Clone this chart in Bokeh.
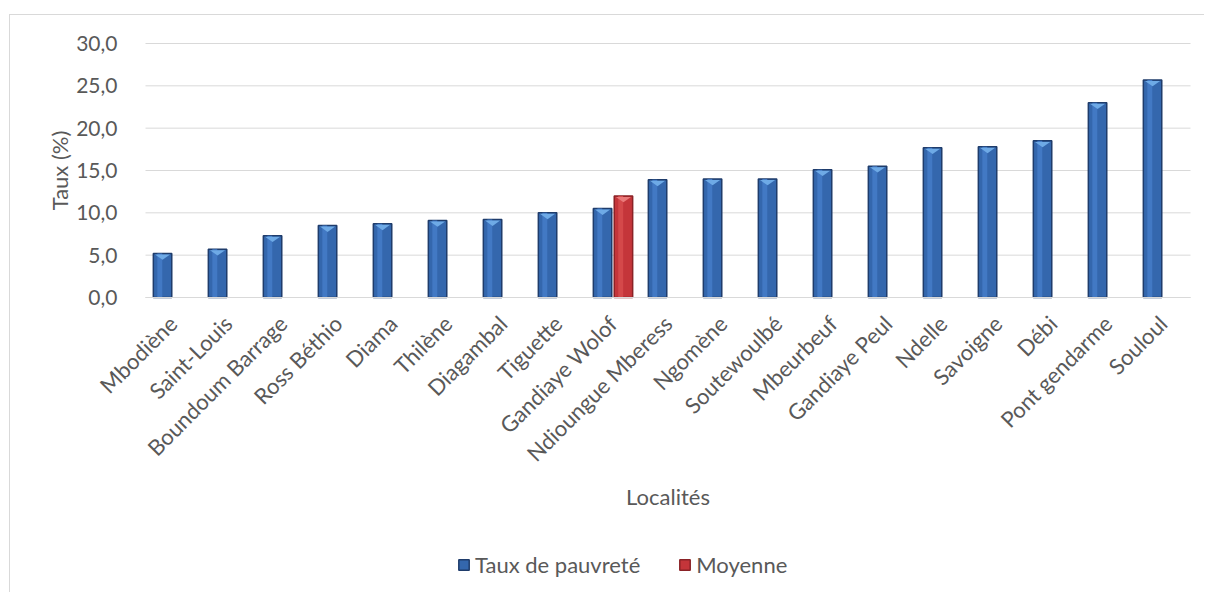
from math import pi
from bokeh.plotting import figure
from bokeh.models import (ColumnDataSource, FixedTicker, CustomJSTickFormatter,
                          Legend, LegendItem, Range1d, LinearAxis, Label)
from bokeh.transform import dodge
from bokeh.embed import file_html
from bokeh.resources import INLINE

# ---------------- data ----------------
localites = ["Mbodiène", "Saint-Louis", "Boundoum Barrage", "Ross Béthio", "Diama",
             "Thilène", "Diagambal", "Tiguette", "Gandiaye Wolof", "Ndioungue Mberess",
             "Ngomène", "Soutewoulbé", "Mbeurbeuf", "Gandiaye Peul", "Ndelle",
             "Savoigne", "Débi", "Pont gendarme", "Souloul"]
taux_pauvrete = [5.2, 5.7, 7.3, 8.5, 8.7, 9.1, 9.2, 10.0, 10.5, 13.9,
                 14.0, 14.0, 15.1, 15.5, 17.7, 17.8, 18.5, 23.0, 25.7]
moyenne_localites = ["Gandiaye Wolof"]
moyenne_valeurs = [12.0]
y_ticks = [0, 5, 10, 15, 20, 25, 30]

# ---------------- style / layout ----------------
FONT = "Lato"
FS = "22px"
FS_Y = "21px"
TXT = "#595959"
GRID = "#d9d9d9"
BAR_W = 0.335
OFF = 0.19
TRI_H = 0.75
TRI_E = 0.03

W, H = 1195, 578                 # canvas size
PLOT_L, PLOT_R = 135, 1180       # plot area (px inside canvas)
PLOT_T, PLOT_B = 28, 282
n = len(localites)
x_lo, x_hi = -0.5, n - 0.5
y_lo, y_hi = y_ticks[0], y_ticks[-1]
ppx = (PLOT_R - PLOT_L) / (x_hi - x_lo)
ppy = (PLOT_B - PLOT_T) / (y_hi - y_lo)

blue = dict(body="#3467ad", edge="#1f3c6b", hi="#4279c4", tri="#6eaae6")
red = dict(body="#c4353a", edge="#8a2226", hi="#d4484a", tri="#ea7a7a")

p = figure(width=W, height=H, output_backend="svg", toolbar_location=None,
           x_axis_location=None, y_axis_location=None,
           x_range=Range1d(x_lo - PLOT_L / ppx, x_hi + (W - PLOT_R) / ppx),
           y_range=Range1d(y_lo - (H - PLOT_B) / ppy, y_hi + PLOT_T / ppy),
           min_border=0, min_border_left=0, min_border_right=0,
           min_border_top=0, min_border_bottom=0)
p.styles = {"border-left": "1px solid #d9d9d9", "border-top": "1px solid #d9d9d9",
            "margin-top": "14px", "margin-left": "9px"}
p.outline_line_color = None
p.background_fill_color = "white"
p.border_fill_color = "white"
p.grid.visible = False

# horizontal gridlines limited to the plot area
p.segment(x0=[x_lo] * len(y_ticks), x1=[x_hi] * len(y_ticks), y0=y_ticks, y1=y_ticks,
          line_color=GRID, line_width=1)


def add_series(cats, vals, offset, col):
    idx = [localites.index(c) for c in cats]
    src = ColumnDataSource(dict(idx=idx, val=vals))
    main = p.vbar(x=dodge("idx", offset, range=None), top="val", bottom=0, width=BAR_W,
                  source=src, fill_color=col["body"], line_color=col["edge"], line_width=1.5)
    p.vbar(x=dodge("idx", offset - 0.05, range=None), top="val", bottom=0, width=0.09,
           source=src, fill_color=col["hi"], line_color=None)
    xs, ys = [], []
    for i, v in zip(idx, vals):
        cx = i + offset
        xs.append([cx - BAR_W / 2 + TRI_E, cx + BAR_W / 2 - TRI_E, cx])
        ys.append([v - 0.12, v - 0.12, v - TRI_H])
    p.patches(xs, ys, fill_color=col["tri"], line_color=None)
    return main


r_taux = add_series(localites, taux_pauvrete, -OFF, blue)
r_moy = add_series(moyenne_localites, moyenne_valeurs, OFF, red)

# axes (fixed inside the canvas)
yax = LinearAxis(fixed_location=x_lo, ticker=FixedTicker(ticks=y_ticks),
                 formatter=CustomJSTickFormatter(code="return tick.toFixed(1).replace('.', ',');"),
                 axis_line_color=None, major_tick_line_color=None, minor_tick_line_color=None,
                 major_label_standoff=22)
xax = LinearAxis(fixed_location=0, ticker=FixedTicker(ticks=list(range(n))),
                 major_label_overrides={i: name for i, name in enumerate(localites)},
                 major_label_orientation=pi / 4, bounds=(x_lo, x_hi),
                 axis_line_color=GRID, axis_line_width=1,
                 major_tick_line_color=None, minor_tick_line_color=None,
                 major_label_standoff=16)
for ax, fs in ((xax, FS), (yax, FS_Y)):
    ax.major_label_text_font = FONT
    ax.major_label_text_font_size = fs
    ax.major_label_text_color = TXT
p.add_layout(yax, "left")
p.add_layout(xax, "below")

p.add_layout(Label(x=(n - 1) / 2, y=0, y_offset=-199, text="Localités",
                   text_align="center", text_baseline="middle",
                   text_font=FONT, text_font_size=FS, text_color=TXT))
p.add_layout(Label(x=x_lo, y=(y_lo + y_hi) / 2, x_offset=-86, text="Taux (%)", angle=pi / 2,
                   text_align="center", text_baseline="middle",
                   text_font=FONT, text_font_size=FS, text_color=TXT))

legend = Legend(items=[LegendItem(label="Taux de pauvreté", renderers=[r_taux]),
                       LegendItem(label="Moyenne", renderers=[r_moy])],
                orientation="horizontal", location=(447, 15),
                label_text_font=FONT, label_text_font_size=FS,
                label_text_color=TXT, glyph_width=13, glyph_height=13,
                label_standoff=5, spacing=38, padding=0, margin=0,
                border_line_color=None, background_fill_alpha=0)
p.add_layout(legend, "center")

open("out.html", "w").write(file_html(p, INLINE))
